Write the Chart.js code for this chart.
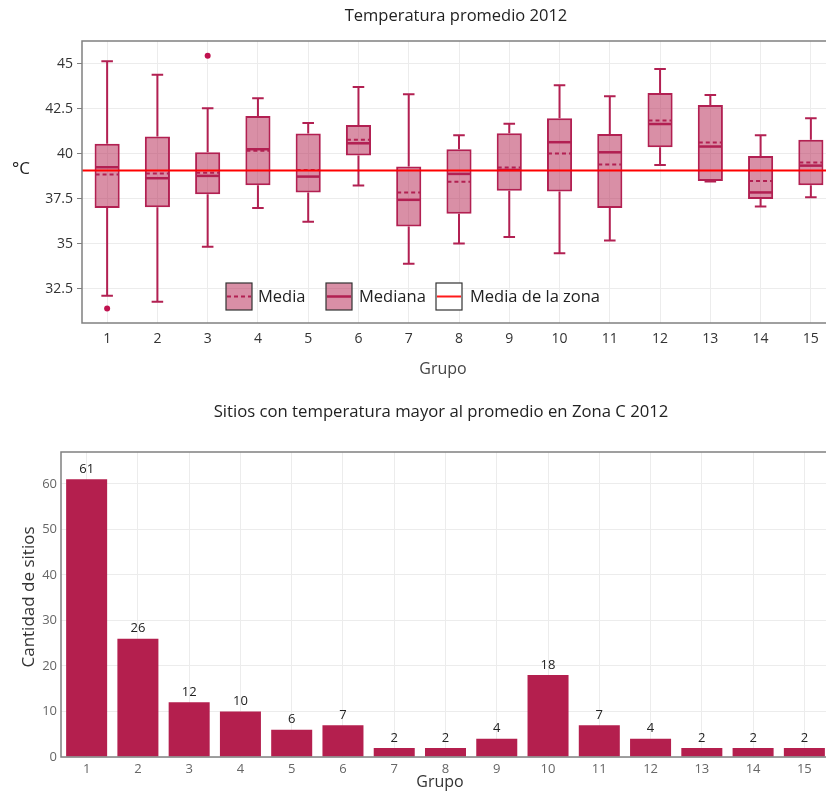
<!DOCTYPE html>
<html>
<head>
<meta charset="utf-8">
<script src="https://cdn.jsdelivr.net/npm/chart.js@4.4.1/dist/chart.umd.min.js"></script>
<style>
html, body { margin: 0; padding: 0; overflow: hidden; background: #fff; width: 826px; height: 791px; }
#boxChart { position: absolute; left: 0; top: 0; }
#barChart { position: absolute; left: 0; top: 390px; }
</style>
</head>
<body>
<canvas id="boxChart" width="840" height="390"></canvas>
<canvas id="barChart" width="832" height="401"></canvas>
<script>
// datos
const grupos = ['1','2','3','4','5','6','7','8','9','10','11','12','13','14','15'];
const minimo  = [32.12, 31.78, 34.83, 36.99, 36.22, 38.23, 33.89, 35.02, 35.37, 34.48, 35.18, 39.38, 38.46, 37.07, 37.59];
const q1      = [36.99, 37.03, 37.75, 38.25, 37.85, 39.90, 35.96, 36.66, 37.94, 37.90, 36.99, 40.36, 38.49, 37.49, 38.25];
const mediana = [39.25, 38.64, 38.77, 40.25, 38.73, 40.58, 37.44, 38.88, 39.10, 40.64, 40.08, 41.65, 40.40, 37.85, 39.34];
const media   = [38.84, 38.90, 38.95, 40.17, 39.10, 40.77, 37.85, 38.44, 39.23, 40.01, 39.40, 41.84, 40.62, 38.49, 39.51];
const q3      = [40.56, 40.95, 40.08, 42.10, 41.12, 41.60, 39.29, 40.25, 41.14, 41.97, 41.10, 43.37, 42.71, 39.88, 40.78];
const maximo  = [45.13, 44.39, 42.52, 43.08, 41.71, 43.71, 43.30, 41.03, 41.67, 43.80, 43.19, 44.70, 43.26, 41.03, 41.97];
const atipicos = [31.41, null, 45.44, null, null, null, null, null, null, null, null, null, null, null, null];
const mediaZona = 39.07;
const ticksTemp = [32.5, 35, 37.5, 40, 42.5, 45];

const sitios = [61, 26, 12, 10, 6, 7, 2, 2, 4, 18, 7, 4, 2, 2, 2];
const ticksSitios = [0, 10, 20, 30, 40, 50, 60];

const fuente = "'Open Sans', 'Noto Sans', sans-serif";
const rosa = 'rgb(178,32,82)';
const rosaClaro = 'rgba(180,31,78,0.5)';
const granate = '#b41f4e';

function texto(ctx, t, x, y, size, color, rot) {
    ctx.save();
    ctx.font = size + 'px ' + fuente;
    ctx.fillStyle = color;
    ctx.textAlign = 'center';
    ctx.textBaseline = 'middle';
    ctx.translate(x, y);
    if (rot) ctx.rotate(rot);
    ctx.fillText(t, 0, 0);
    ctx.restore();
}

function marco(chart) {
    const a = chart.chartArea, ctx = chart.ctx;
    ctx.save();
    ctx.strokeStyle = '#808080';
    ctx.lineWidth = 1.5;
    ctx.strokeRect(a.left, a.top, a.right - a.left, a.bottom - a.top);
    ctx.restore();
}

function cajaLeyenda(ctx, x, y, relleno, tipo) {
    ctx.save();
    ctx.fillStyle = relleno;
    ctx.fillRect(x, y, 26, 27);
    ctx.strokeStyle = '#333';
    ctx.lineWidth = 1.2;
    ctx.strokeRect(x, y, 26, 27);
    ctx.beginPath();
    ctx.moveTo(x + 1, y + 13.5);
    ctx.lineTo(x + 25, y + 13.5);
    if (tipo === 'media') { ctx.strokeStyle = rosa; ctx.lineWidth = 2; ctx.setLineDash([4, 3]); }
    else if (tipo === 'mediana') { ctx.strokeStyle = rosa; ctx.lineWidth = 2.5; }
    else { ctx.strokeStyle = '#ff1a1a'; ctx.lineWidth = 2; }
    ctx.stroke();
    ctx.restore();
}

const cajasPlugin = {
    id: 'cajas',
    beforeDatasetsDraw(chart) {
        const y = chart.scales.y, ctx = chart.ctx;
        const barras = chart.getDatasetMeta(0).data;
        ctx.save();
        ctx.strokeStyle = rosa;
        ctx.lineWidth = 2;
        barras.forEach((b, i) => {
            const cap = b.width * 0.23;
            const yMax = y.getPixelForValue(maximo[i]);
            const yMin = y.getPixelForValue(minimo[i]);
            ctx.beginPath();
            ctx.moveTo(b.x, y.getPixelForValue(q3[i]));
            ctx.lineTo(b.x, yMax);
            ctx.moveTo(b.x - cap, yMax);
            ctx.lineTo(b.x + cap, yMax);
            ctx.moveTo(b.x, y.getPixelForValue(q1[i]));
            ctx.lineTo(b.x, yMin);
            ctx.moveTo(b.x - cap, yMin);
            ctx.lineTo(b.x + cap, yMin);
            ctx.stroke();
        });
        ctx.restore();
    },
    afterDatasetsDraw(chart) {
        const y = chart.scales.y, ctx = chart.ctx, a = chart.chartArea;
        const barras = chart.getDatasetMeta(0).data;
        ctx.save();
        ctx.strokeStyle = rosa;
        barras.forEach((b, i) => {
            const w = b.width / 2 - 1;
            const ym = y.getPixelForValue(mediana[i]);
            ctx.setLineDash([]);
            ctx.lineWidth = 2.5;
            ctx.beginPath();
            ctx.moveTo(b.x - w, ym);
            ctx.lineTo(b.x + w, ym);
            ctx.stroke();
            const yp = y.getPixelForValue(media[i]);
            ctx.setLineDash([4, 3]);
            ctx.lineWidth = 2;
            ctx.beginPath();
            ctx.moveTo(b.x - w, yp);
            ctx.lineTo(b.x + w, yp);
            ctx.stroke();
        });
        // media de la zona
        const yz = y.getPixelForValue(mediaZona);
        ctx.setLineDash([]);
        ctx.strokeStyle = '#ff0000';
        ctx.lineWidth = 2;
        ctx.beginPath();
        ctx.moveTo(a.left, yz);
        ctx.lineTo(a.right, yz);
        ctx.stroke();
        ctx.restore();
    },
    afterDraw(chart) {
        const ctx = chart.ctx, a = chart.chartArea;
        marco(chart);
        texto(ctx, 'Temperatura promedio 2012', 456, 16, 16.5, '#222');
        texto(ctx, '°C', 21, 169, 17, '#222');
        texto(ctx, 'Grupo', 443, 369, 16, '#444');
        // leyenda
        const ly = a.top + 242;
        cajaLeyenda(ctx, 226, ly, rosaClaro, 'media');
        cajaLeyenda(ctx, 326, ly, rosaClaro, 'mediana');
        cajaLeyenda(ctx, 436, ly, '#fff', 'zona');
        ctx.save();
        ctx.font = '16.5px ' + fuente;
        ctx.fillStyle = '#222';
        ctx.textBaseline = 'middle';
        ctx.fillText('Media', 258, ly + 14);
        ctx.fillText('Mediana', 359, ly + 14);
        ctx.fillText('Media de la zona', 470, ly + 14);
        ctx.restore();
    }
};

new Chart(document.getElementById('boxChart'), {
    type: 'bar',
    data: {
        labels: grupos,
        datasets: [{
            label: 'Caja',
            data: q1.map((v, i) => [v, q3[i]]),
            backgroundColor: rosaClaro,
            borderColor: rosa,
            borderWidth: 2,
            borderSkipped: false,
            barPercentage: 0.5,
            categoryPercentage: 1.0
        }, {
            type: 'line',
            label: 'Atipicos',
            data: atipicos,
            showLine: false,
            pointRadius: 3,
            pointBackgroundColor: '#c0124f',
            pointBorderWidth: 0
        }]
    },
    options: {
        responsive: false,
        animation: false,
        layout: { padding: { top: 41, right: 3, left: 0, bottom: 0 } },
        plugins: { legend: { display: false }, tooltip: { enabled: false } },
        scales: {
            x: {
                offset: true,
                grid: { offset: false, color: '#ececec', drawTicks: false },
                border: { display: false },
                ticks: { padding: 8, color: '#333', font: { family: fuente, size: 14 } },
                afterFit: s => { s.height = 67; }
            },
            y: {
                min: 30.6,
                max: 46.26,
                afterBuildTicks: s => { s.ticks = ticksTemp.map(v => ({ value: v })); },
                grid: { color: '#ececec', tickColor: '#808080', tickLength: 5 },
                border: { display: false },
                ticks: { padding: 4, color: '#333', font: { family: fuente, size: 14 } },
                afterFit: s => { s.width = 82; }
            }
        }
    },
    plugins: [cajasPlugin]
});

const barrasPlugin = {
    id: 'etiquetas',
    afterDatasetsDraw(chart) {
        const ctx = chart.ctx;
        chart.getDatasetMeta(0).data.forEach((b, i) => {
            texto(ctx, String(sitios[i]), b.x, b.y - 10, 13, '#222');
        });
    },
    afterDraw(chart) {
        const ctx = chart.ctx;
        marco(chart);
        texto(ctx, 'Sitios con temperatura mayor al promedio en Zona C 2012', 441, 22, 16.7, '#222');
        texto(ctx, 'Cantidad de sitios', 29, 207, 17, '#333', -Math.PI / 2);
        texto(ctx, 'Grupo', 440, 392, 16, '#333');
    }
};

new Chart(document.getElementById('barChart'), {
    type: 'bar',
    data: {
        labels: grupos,
        datasets: [{
            label: 'Sitios',
            data: sitios,
            backgroundColor: granate,
            borderWidth: 0,
            barPercentage: 0.8,
            categoryPercentage: 1.0
        }]
    },
    options: {
        responsive: false,
        animation: false,
        layout: { padding: { top: 62, right: 2, left: 0, bottom: 0 } },
        plugins: { legend: { display: false }, tooltip: { enabled: false } },
        scales: {
            x: {
                offset: true,
                grid: { offset: false, color: '#ececec', drawTicks: false },
                border: { display: false },
                ticks: { padding: 4, color: '#666', font: { family: fuente, size: 13 } },
                afterFit: s => { s.height = 34; }
            },
            y: {
                min: 0,
                max: 67,
                afterBuildTicks: s => { s.ticks = ticksSitios.map(v => ({ value: v })); },
                grid: { color: '#ececec', drawTicks: false },
                border: { display: false },
                ticks: { padding: 4, color: '#666', font: { family: fuente, size: 13 } },
                afterFit: s => { s.width = 61; }
            }
        }
    },
    plugins: [barrasPlugin]
});
</script>
</body>
</html>
